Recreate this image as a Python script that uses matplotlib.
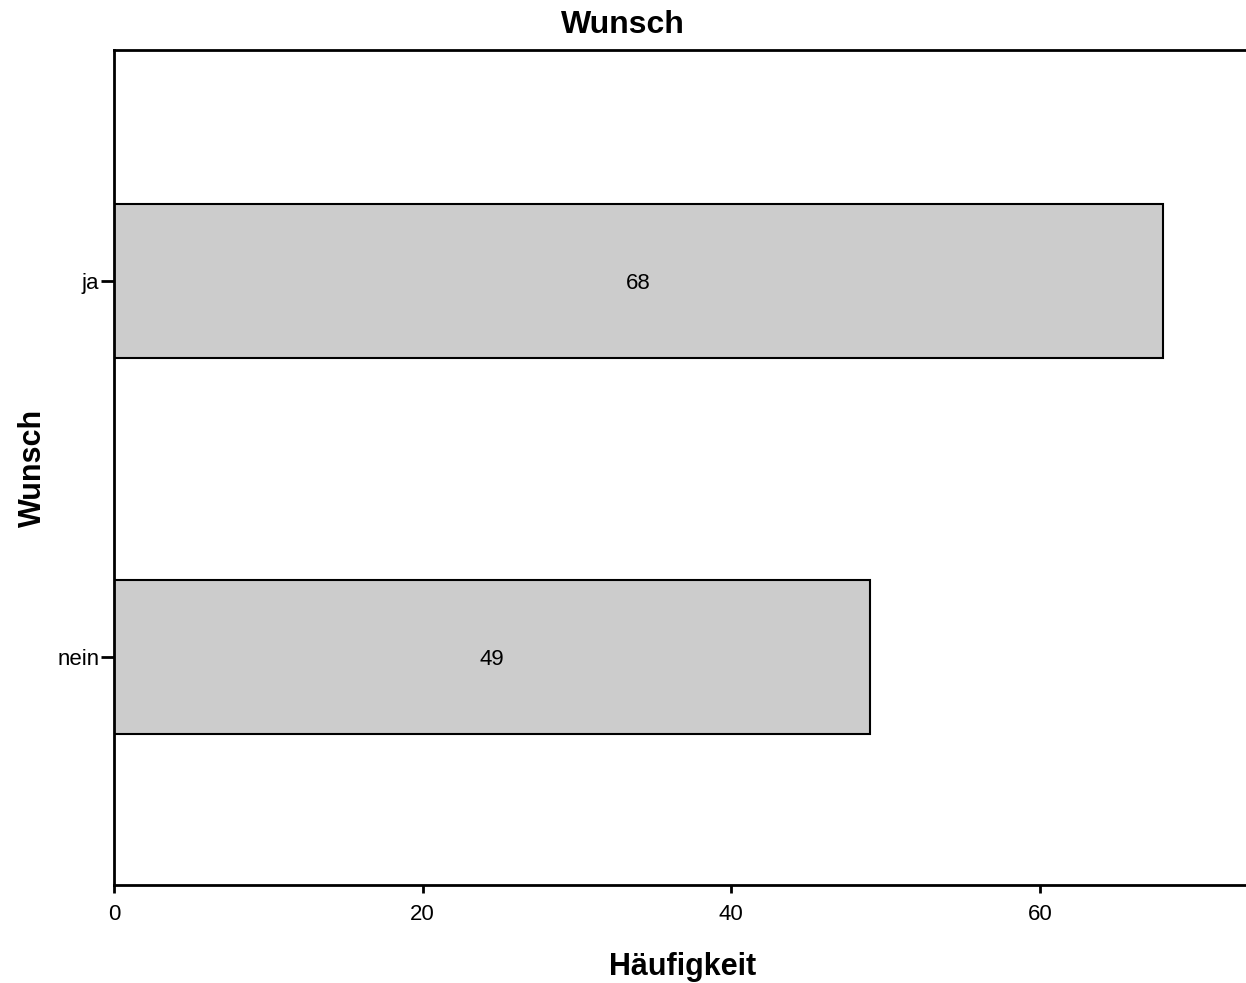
import matplotlib
matplotlib.use("Agg")
import matplotlib.pyplot as plt

categories = ["nein", "ja"]
counts = [49, 68]

plt.rcParams['font.family'] = ['Liberation Sans', 'DejaVu Sans']

fig = plt.figure(figsize=(12.46, 9.83), dpi=100)
ax = fig.add_axes([114/1246, 98/983, (1252 - 114)/1246, 835/983])

ypos = list(range(len(categories)))
bars = ax.barh(ypos, counts, height=0.41, color="#cccccc", edgecolor="black", linewidth=1.5)
for y, c in zip(ypos, counts):
    ax.text(c / 2, y, str(c), ha="center", va="center_baseline", fontsize=16)

ax.set_yticks(ypos)
ax.set_yticklabels(categories, fontsize=16, va="center_baseline")
ax.set_ylim(-0.607, 1.614)
ax.set_xlim(0, 73.74)
ax.set_xticks([0, 20, 40, 60])
ax.tick_params(axis="x", labelsize=16, length=6, width=2, pad=8)
ax.tick_params(axis="y", length=9.5, width=2, pad=1)
ax.spines["right"].set_visible(False)
for s in ["left", "top", "bottom"]:
    ax.spines[s].set_linewidth(2)

ax.set_xlabel("Häufigkeit", fontsize=22, fontweight="bold", labelpad=19)
ax.set_ylabel("Wunsch", fontsize=22, fontweight="bold", labelpad=6.5)
fig.text(0.5, 1 - 25/983, "Wunsch", ha="center", va="center", fontsize=23, fontweight="bold")

fig.savefig("out.png", dpi=100)
